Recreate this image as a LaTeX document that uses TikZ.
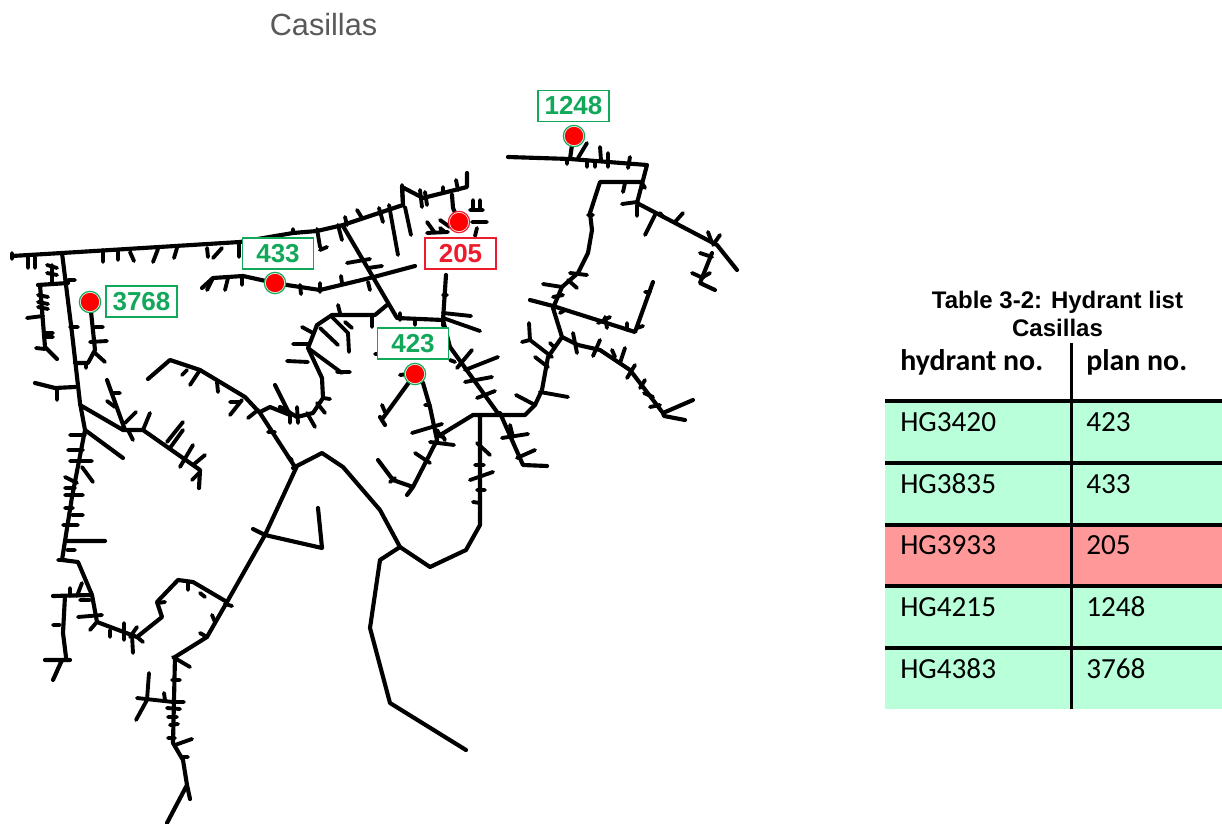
\documentclass[tikz,border=0pt]{standalone}
\usepackage{fontspec}
\setmainfont{Liberation Sans}
\newfontfamily\calibrifont{Carlito}
\definecolor{lblgreen}{HTML}{12A85A}
\definecolor{lblred}{HTML}{EC1C2C}
\definecolor{rowgreen}{HTML}{B9FFD9}
\definecolor{rowred}{HTML}{FF9999}
\tikzset{
  pipe/.style={line width=3.1pt,line cap=round,line join=round,black},
  tick/.style={line width=2.9pt,line cap=round,line join=round,black},
  lblbox/.style={draw=#1,text=#1,line width=1.2pt,fill=white,minimum width=53pt,minimum height=23.2pt,inner sep=0pt,font=\fontsize{19.5}{20}\selectfont\bfseries},
  hydrant/.style={circle,fill=white,draw=#1,line width=.9pt,minimum size=16pt,inner sep=0pt,path picture={\fill[red] (path picture bounding box.center) circle (6.9pt);}},
  cell/.style={anchor=west,inner sep=0pt,font=\calibrifont\fontsize{21.9}{23}\selectfont},
  headcell/.style={anchor=west,inner sep=0pt,font=\calibrifont\fontsize{22.4}{23}\selectfont\bfseries},
  tabrule/.style={line width=2.3pt,black}
}
\begin{document}
\begin{tikzpicture}[x=0.75pt,y=-0.75pt]
\useasboundingbox (0,0) rectangle (1222,824);
\fill[white] (0,0) rectangle (1222,824);
\node[text=black!65,font=\fontsize{23}{24}\selectfont] (title) at (323.5,25) {Casillas};
% main pipes
\draw[pipe]
 (12,256) -- (62,253) -- (240,242) -- (293,233) -- (317,231) -- (343,225) -- (403,205) -- (402,187) -- (423,198) -- (467,187) -- (467,173)
 (452,195) -- (453,208) -- (459,222)
 (343,226) -- (397,318) -- (443,320) -- (450,347) -- (497,412)
 (446,275) -- (443,320)
 (508,157) -- (570,159) -- (647,165) -- (637,203) -- (717,245) -- (737,270)
 (570,159) -- (572,145)
 (642,182) -- (600,182) -- (590,213) -- (592,230) -- (588,253) -- (578,273) -- (562,287) -- (553,308) -- (562,337) -- (548,357) -- (542,390) -- (535,405) -- (525,415) -- (473,415) -- (437,437)
 (553,306) -- (530,300)
 (553,306) -- (635,332) -- (653,282)
 (562,337) -- (578,345) -- (600,350) -- (630,370) -- (663,413) -- (693,400)
 (663,413) -- (664,416) -- (685,420)
 (712,253) -- (700,283) -- (715,290)
 (500,413) -- (523,465) -- (547,466)
 (415,374) -- (383,418)
 (380,417) -- (385,425)
 (415,374) -- (423,383) -- (430,407) -- (437,440) -- (413,487) -- (393,480) -- (378,460)
 (413,487) -- (407,495)
 (480,415) -- (480,525) -- (466,550) -- (430,567) -- (400,547) -- (380,510) -- (343,467) -- (322,453) -- (293,468)
 (400,547) -- (380,560) -- (370,628) -- (390,703) -- (466,750)
 (297,466) -- (265,535) -- (227,602) -- (207,637) -- (175,657) -- (173,743) -- (183,760) -- (187,785) -- (190,799)
 (187,785) -- (167,823)
 (227,602) -- (193,582) -- (178,580) -- (157,602) -- (162,617) -- (137,637) -- (97,622) -- (92,595) -- (78,562) -- (62,560) -- (65,541) -- (72,497) -- (85,430) -- (80,403) -- (72,333) -- (62,253)
 (265,535) -- (322,548) -- (318,508)
 (253,529) -- (265,535)
 (66,541) -- (105,541)
 (53,596) -- (92,595)
 (65,596) -- (63,633) -- (66,657)
 (45,660) -- (70,660)
 (62,660) -- (53,680)
 (38,285) -- (68,283)
 (40,285) -- (45,347) -- (57,359)
 (90,302) -- (95,350) -- (88,363) -- (75,363)
 (35,383) -- (55,388) -- (75,387)
 (80,405) -- (123,430) -- (143,430) -- (200,470) -- (199,488)
 (107,380) -- (125,430)
 (85,430) -- (123,458)
 (148,379) -- (170,360) -- (200,370) -- (245,397) -- (260,413) -- (295,467)
 (260,412) -- (270,407) -- (290,415)
 (275,385) -- (290,415)
 (280,407) -- (297,417) -- (313,413) -- (323,398) -- (322,378) -- (308,348) -- (317,325) -- (332,315) -- (375,315) -- (387,305)
 (202,288) -- (213,278) -- (243,276) -- (275,283) -- (287,285) -- (320,290) -- (370,278) -- (415,266);
% branch stubs
\draw[tick]
 (12,253) -- (12,259) (28,257) -- (28,268) (35,257) -- (35,268) (103,250) -- (103,262) (118,250) -- (118,260) (130,252) -- (134,261)
 (158,249) -- (153,262) (177,248) -- (174,258) (207,248) -- (208,257) (222,248) -- (213,258) (239,243) -- (239,257)
 (52,265) -- (52,282) (47,265) -- (57,268) (47,273) -- (57,275) (68,280) -- (75,280) (70,327) -- (78,327)
 (38,295) -- (48,297) (38,302) -- (48,304) (38,307) -- (48,309) (27,318) -- (43,316) (45,333) -- (53,333) (45,337) -- (53,337) (36,348) -- (45,349)
 (95,327) -- (103,327) (90,342) -- (107,341) (95,353) -- (105,362) (86,363) -- (86,368)
 (57,388) -- (57,400)
 (112,393) -- (120,393) (107,401) -- (115,407) (125,423) -- (136,412) (128,430) -- (133,440) (143,430) -- (150,413)
 (167,442) -- (183,422) (170,448) -- (183,430) (180,467) -- (193,445) (193,465) -- (205,455) (192,480) -- (200,472)
 (70,435) -- (85,435) (68,450) -- (83,450) (70,461) -- (92,461) (82,467) -- (93,482) (65,477) -- (77,483)
 (65,488) -- (75,488) (65,495) -- (83,495) (65,508) -- (73,508) (72,515) -- (83,515) (63,525) -- (78,525) (67,550) -- (75,550) (58,560) -- (66,560)
 % around loop bottom left
 (78,617) -- (102,615) (90,630) -- (96,623) (110,630) -- (110,637) (124,623) -- (124,640) (137,627) -- (130,637) (132,635) -- (133,653) (137,637) -- (143,642)
 (70,596) -- (70,588) (82,583) -- (77,596) (80,600) -- (90,600)
 (158,603) -- (165,602) (188,583) -- (188,590) (200,593) -- (205,597) (225,604) -- (232,606)
 (212,615) -- (215,622) (200,633) -- (207,637)
 (53,625) -- (60,625)
 % lower trunk
 (137,698) -- (173,702) (149,673) -- (147,700) (147,700) -- (136,720) (173,702) -- (184,702)
 (167,708) -- (180,709) (168,717) -- (177,717) (170,725) -- (178,724) (168,738) -- (175,738) (175,745) -- (192,739)
 (173,657) -- (190,667) (172,680) -- (180,680) (183,757) -- (188,757) (164,693) -- (165,700)
 % middle
 (182,375) -- (187,370) (190,385) -- (200,370) (218,392) -- (217,382) (230,415) -- (242,400) (230,402) -- (240,402) (248,418) -- (258,410)
 (268,432) -- (275,432) (288,457) -- (292,460)
 (290,412) -- (290,423) (297,407) -- (298,423) (307,413) -- (315,427) (317,403) -- (325,413) (323,398) -- (330,399)
 (287,361) -- (308,362) (293,344) -- (308,344) (302,327) -- (313,333)
 (308,348) -- (342,373) (337,372) -- (350,372) (320,328) -- (338,345) (332,317) -- (348,333) -- (349,352)
 (338,305) -- (340,313) (372,315) -- (372,327)
 (345,322) -- (352,328)
 % 433 branch
 (213,278) -- (207,290) (228,278) -- (225,290) (242,276) -- (242,285) (300,285) -- (301,294) (320,283) -- (320,292) (341,276) -- (342,283) (368,282) -- (370,290)
 (347,263) -- (370,259) (368,268) -- (382,266)
 % top line
 (293,229) -- (293,233) (317,229) -- (320,247) (320,250) -- (327,247) (338,225) -- (342,240) (345,217) -- (347,225) (357,210) -- (362,218) (379,208) -- (383,222)
 (389,205) -- (398,255) (405,207) -- (411,235) (402,185) -- (403,203)
 (420,190) -- (422,207) (425,192) -- (427,205) (443,187) -- (443,193) (456,180) -- (458,190)
 % around 205
 (470,210) -- (483,210) (473,200) -- (473,210) (480,200) -- (480,210) (472,222) -- (487,222) (477,228) -- (475,236)
 (427,222) -- (435,233) (427,233) -- (448,232) (440,220) -- (450,227)
 (440,228) -- (445,232)
 % middle junction
 (443,313) -- (471,316) (443,318) -- (480,331) (443,295) -- (447,295) (415,320) -- (415,325) (400,313) -- (400,320) (443,320) -- (443,326) (375,354) -- (378,354)
 (457,368) -- (472,350) (465,370) -- (498,357) (465,382) -- (492,377) (477,398) -- (495,391) (450,360) -- (455,362)
 (408,374) -- (400,375)
 (412,433) -- (442,424) (430,442) -- (454,445) (415,453) -- (430,463) (437,430) -- (441,437) (442,435) -- (445,440)
 (425,405) -- (430,405) (385,412) -- (382,405) (390,482) -- (395,478)
 (477,443) -- (490,455) (475,465) -- (484,465) (470,480) -- (493,472) (477,490) -- (485,490) (473,502) -- (480,503)
 % right part
 (502,438) -- (528,434) (517,458) -- (535,450) (510,425) -- (513,437)
 (529,323) -- (530,340) (522,342) -- (530,340) -- (552,357) (535,357) -- (548,367) (550,343) -- (554,347)
 (540,392) -- (568,397) (516,395) -- (535,405)
 (570,273) -- (587,275) (568,280) -- (577,288) (543,284) -- (562,287) (553,297) -- (563,295) (588,215) -- (593,215)
 (598,323) -- (610,317) (605,317) -- (607,328) (627,323) -- (627,330) (637,328) -- (643,326) (650,292) -- (645,292)
 (573,333) -- (577,353) (600,340) -- (593,356) (612,350) -- (615,357) (625,348) -- (620,363) (635,365) -- (627,378)
 (645,380) -- (640,388) (644,393) -- (653,397) (650,407) -- (660,405) (560,313) -- (565,310)
 (578,158) -- (587,143) (601,160) -- (600,147) (587,160) -- (587,167) (595,162) -- (595,167) (608,153) -- (608,167) (630,157) -- (628,168) (567,159) -- (567,164)
 (623,192) -- (625,183) (642,183) -- (645,188) (622,204) -- (637,202) (637,205) -- (637,216)
 (655,215) -- (645,235) (660,213) -- (663,217) (675,222) -- (683,213) (708,232) -- (712,243) (720,235) -- (713,245)
 (700,253) -- (712,257) (692,273) -- (703,278) (703,277) -- (710,273);
% hydrants and labels
\node[hydrant=lblgreen] (h1248) at (574,136) {};
\node[hydrant=lblred] (h205) at (459,222) {};
\node[hydrant=lblgreen] (h433) at (275,283) {};
\node[hydrant=lblgreen] (h423) at (415,374) {};
\node[hydrant=lblgreen] (h3768) at (90,302) {};
\node[lblbox=lblgreen] (l1248) at (573.5,106) {1248};
\node[lblbox=lblred] (l205) at (460.5,253.5) {205};
\node[lblbox=lblgreen] (l433) at (278,253.5) {433};
\node[lblbox=lblgreen] (l423) at (413,343.5) {423};
\node[lblbox=lblgreen] (l3768) at (141.5,301.5) {3768};
% table
\node[font=\fontsize{18}{21}\selectfont\bfseries,align=center,inner sep=0pt] (tcap) at (1057.5,314) {Table 3-2: Hydrant list\\Casillas};
\fill[rowgreen] (885,401) rectangle (1222,463);
\fill[rowgreen] (885,463) rectangle (1222,525);
\fill[rowred] (885,525) rectangle (1222,586);
\fill[rowgreen] (885,586) rectangle (1222,648);
\fill[rowgreen] (885,648) rectangle (1222,709);
\foreach \yy in {401,463,525,586,648} {\draw[tabrule] (885,\yy) -- (1222,\yy);}
\draw[tabrule] (1071.5,343) -- (1071.5,709);
\node[headcell] (h1) at (900,362) {hydrant no.};
\node[headcell] (h2) at (1086,362) {plan no.};
\node[cell] (a1) at (900,422) {HG3420}; \node[cell] (b1) at (1086,422) {423};
\node[cell] (a2) at (900,484) {HG3835}; \node[cell] (b2) at (1086,484) {433};
\node[cell] (a3) at (900,545) {HG3933}; \node[cell] (b3) at (1086,545) {205};
\node[cell] (a4) at (900,607) {HG4215}; \node[cell] (b4) at (1086,607) {1248};
\node[cell] (a5) at (900,669) {HG4383}; \node[cell] (b5) at (1086,669) {3768};
\end{tikzpicture}
\end{document}
